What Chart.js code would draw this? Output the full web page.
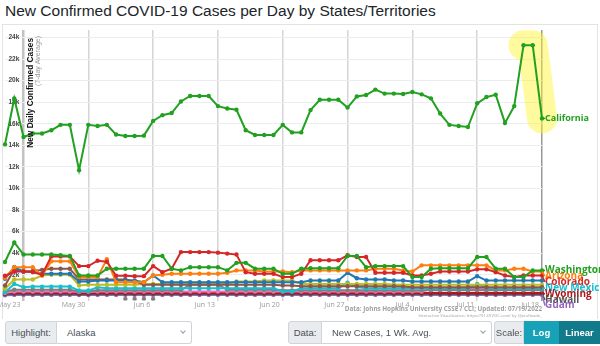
<!DOCTYPE html>
<html>
<head>
<meta charset="utf-8">
<script src="https://cdn.jsdelivr.net/npm/chart.js@4.4.0/dist/chart.umd.min.js"></script>
<style>
  html, body { margin: 0; padding: 0; background: #fff; }
  body { width: 600px; height: 346px; position: relative; overflow: hidden; font-family: "Liberation Sans", Arial, sans-serif; }
  #title { position: absolute; left: 5px; top: 2px; font-size: 15.5px; color: #212529; white-space: nowrap; }
  #frame { position: absolute; left: 2px; top: 24px; width: 594px; height: 294px; border: 1px solid #e3e3e3; border-bottom: none; }
  #chart { position: absolute; left: 0; top: 0; }
  .src { position: absolute; right: 58px; white-space: nowrap; color: #a0a0a0; font-family: "Open Sans", sans-serif; }
  .group { position: absolute; top: 321px; height: 23px; display: flex; font-size: 9.5px; color: #495057; }
  .lbl { display: flex; align-items: center; justify-content: center; background: #e9ecef; border: 1px solid #ced4da; border-radius: 3px 0 0 3px; box-sizing: border-box; }
  .sel { position: relative; display: flex; align-items: center; padding-left: 10px; border: 1px solid #ced4da; border-left: none; border-radius: 0 3px 3px 0; box-sizing: border-box; flex: 1; }
  .chev { position: absolute; right: 6px; top: 7px; width: 3px; height: 3px; border-right: 1px solid #999; border-bottom: 1px solid #999; transform: rotate(45deg); }
  .btn { display: flex; align-items: center; justify-content: center; color: #fff; box-sizing: border-box; font-weight: bold; }
</style>
</head>
<body>
<div id="title">New Confirmed COVID-19 Cases per Day by States/Territories</div>
<div id="frame"></div>
<canvas id="chart" width="600" height="310"></canvas>
<div class="src" style="top:304px;font-size:6.3px;font-weight:bold;">Data: Johns Hopkins University CSSE / CCI; Updated: 07/19/2022</div>
<div class="src" style="top:313px;font-size:4.2px;">Interactive Visualization: https://91-DIVOC.com/ by @profwade_</div>

<div class="group" style="left:5px;width:187px">
  <span class="lbl" style="width:52px">Highlight:</span>
  <span class="sel">Alaska<i class="chev"></i></span>
</div>
<div class="group" style="left:288px;width:204px">
  <span class="lbl" style="width:34px">Data:</span>
  <span class="sel">New Cases, 1 Wk. Avg.<i class="chev"></i></span>
</div>
<div class="group" style="left:494px;width:106px">
  <span class="lbl" style="width:30px">Scale:</span>
  <span class="btn" style="width:35px;background:#17a2b8;">Log</span>
  <span class="btn" style="width:41px;background:#117a8b;">Linear</span>
</div>

<script>
// one label per day, May 21 .. Jul 18 2022
const days = [
  "May 21", "May 22", "May 23", "May 24", "May 25", "May 26", "May 27", "May 28", "May 29", "May 30", "May 31",
  "Jun 1", "Jun 2", "Jun 3", "Jun 4", "Jun 5", "Jun 6", "Jun 7", "Jun 8", "Jun 9", "Jun 10",
  "Jun 11", "Jun 12", "Jun 13", "Jun 14", "Jun 15", "Jun 16", "Jun 17", "Jun 18", "Jun 19", "Jun 20",
  "Jun 21", "Jun 22", "Jun 23", "Jun 24", "Jun 25", "Jun 26", "Jun 27", "Jun 28", "Jun 29", "Jun 30",
  "Jul 1", "Jul 2", "Jul 3", "Jul 4", "Jul 5", "Jul 6", "Jul 7", "Jul 8", "Jul 9", "Jul 10",
  "Jul 11", "Jul 12", "Jul 13", "Jul 14", "Jul 15", "Jul 16", "Jul 17", "Jul 18"
];
const xTickLabels = ["May 23", "May 30", "Jun 6", "Jun 13", "Jun 20", "Jun 27", "Jul 4", "Jul 11", "Jul 18"];
const yTickValues = [2000, 4000, 6000, 8000, 10000, 12000, 14000, 16000, 18000, 20000, 22000, 24000];
const highlightDays = ["Jul 16", "Jul 17", "Jul 18"];

const california = [
  14090, 18350, 14770, 15100, 15100, 15400, 15900, 15900, 11700, 15900,
  15800, 15900, 15000, 14870, 14870, 14900, 16270, 16800, 17000, 18070,
  18580, 18580, 18580, 17640, 17420, 17300, 15400, 14960, 14960, 14960,
  15900, 15200, 15200, 17270, 18230, 18230, 18230, 17500, 18540, 18670,
  19170, 18800, 18800, 18770, 18950, 18730, 18360, 16950, 15900, 15800,
  15700, 17900, 18480, 18700, 16080, 17640, 23280, 23280, 16500
];
const washington = [
  3180, 5000, 3870, 3870, 3870, 3870, 3800, 3740, 1930, 1930,
  1930, 2560, 2560, 2560, 2560, 2560, 3740, 3740, 2560, 2400,
  2700, 2700, 2700, 2700, 2400, 3100, 3100, 2560, 2560, 2560,
  2090, 2090, 2560, 2600, 2600, 2600, 2600, 3740, 3740, 2700,
  2800, 2800, 2800, 2800, 1780, 1780, 2560, 2600, 2600, 2600,
  2600, 3650, 3650, 2560, 2560, 1780, 1780, 2400, 2400
];
const colorado = [
  1900, 2300, 2300, 2250, 2000, 3700, 3700, 3700, 2800, 2800,
  3300, 3200, 1900, 1900, 1870, 1870, 2800, 2240, 2560, 4100,
  4100, 4100, 4100, 4050, 3960, 3870, 2240, 2090, 2090, 2090,
  1780, 1780, 2090, 3340, 3340, 3340, 3340, 3800, 3650, 3650,
  2180, 2180, 2180, 2180, 1930, 1930, 2090, 2300, 2300, 2300,
  2300, 2500, 2500, 2240, 1930, 1780, 1930, 1930, 1930
];
const arizona = [
  1700, 2700, 2700, 2700, 1930, 3240, 3240, 3240, 1780, 1780,
  1780, 3430, 1300, 1300, 1300, 1300, 1930, 1990, 2090, 2090,
  2090, 2090, 2090, 2090, 2180, 2400, 2400, 2400, 2300, 2300,
  2300, 2240, 2400, 2400, 2400, 2400, 2400, 2400, 2400, 2400,
  2560, 2560, 2560, 2400, 2300, 2870, 2870, 2870, 2870, 2870,
  2870, 2870, 2870, 2400, 2400, 2560, 2560, 2300, 2300
];
const oregon = [
  1620, 2700, 2300, 2250, 2100, 2090, 2090, 2090, 1370, 1370,
  1460, 1460, 1460, 1460, 1460, 1300, 1930, 1300, 1300, 1300,
  1300, 1300, 1300, 1300, 1300, 1300, 1300, 1300, 1300, 1300,
  1300, 1300, 1300, 1460, 1460, 1460, 1460, 2180, 1680, 1560,
  1560, 1560, 1460, 1460, 1370, 1370, 1370, 1370, 1370, 1370,
  1370, 1870, 1460, 1460, 1460, 1460, 1460, 1460, 1460
];
const nevada = [
  1000, 2490, 2300, 2350, 2450, 2560, 2560, 2560, 1560, 1560,
  1560, 1560, 1560, 1560, 1400, 1060, 1060, 1060, 1060, 1060,
  1060, 1060, 1060, 1060, 1060, 1060, 1060, 1060, 1060, 1060,
  1000, 1000, 940, 940, 940, 940, 940, 940, 940, 940,
  940, 940, 940, 900, 840, 840, 840, 840, 840, 840,
  840, 840, 840, 840, 840, 840, 840, 840, 840
];
const utah = [
  700, 1560, 1560, 1560, 1930, 2000, 2000, 2000, 1000, 1060,
  1060, 1060, 1060, 1060, 1060, 1150, 1150, 1150, 1150, 1150,
  1150, 1150, 1150, 1150, 1150, 1370, 1370, 1370, 1460, 1460,
  1460, 1460, 1150, 1150, 1150, 1150, 1150, 1150, 1150, 1150,
  1150, 1150, 1100, 1060, 1060, 1060, 1060, 1060, 1060, 1060,
  1060, 1060, 1060, 1060, 1060, 1060, 1060, 1060, 1060
];
const newMexico = [
  370, 1150, 840, 900, 900, 900, 900, 900, 530, 530,
  840, 750, 750, 750, 750, 750, 750, 750, 750, 750,
  750, 750, 750, 750, 750, 750, 750, 750, 750, 750,
  440, 440, 750, 750, 750, 750, 750, 1250, 850, 750,
  750, 750, 750, 750, 750, 750, 750, 750, 750, 750,
  750, 1150, 800, 750, 750, 750, 750, 750, 750
];
const idaho = [
  450, 600, 600, 600, 600, 600, 600, 600, 450, 450,
  550, 550, 550, 550, 550, 550, 550, 550, 550, 550,
  1100, 1100, 1100, 1100, 600, 600, 600, 600, 600, 600,
  550, 550, 550, 550, 550, 550, 550, 550, 550, 550,
  550, 550, 550, 550, 550, 550, 550, 550, 550, 550,
  550, 550, 550, 550, 550, 550, 550, 550, 550
];
const montana = [
  300, 450, 450, 450, 450, 450, 450, 450, 400, 400,
  450, 450, 450, 450, 450, 450, 450, 450, 450, 450,
  450, 450, 450, 450, 450, 450, 450, 450, 450, 450,
  450, 450, 450, 450, 450, 450, 450, 450, 450, 450,
  450, 450, 450, 450, 450, 450, 680, 680, 680, 680,
  680, 680, 680, 680, 680, 680, 680, 680, 680
];
const wyoming = [
  250, 320, 320, 320, 320, 320, 320, 320, 280, 280,
  300, 300, 300, 300, 300, 300, 300, 300, 300, 300,
  300, 300, 300, 300, 300, 300, 300, 300, 300, 300,
  300, 300, 300, 300, 300, 300, 300, 300, 300, 300,
  300, 300, 300, 300, 300, 300, 300, 300, 300, 300,
  300, 300, 300, 300, 300, 300, 300, 300, 300
];
const hawaii = [
  180, 220, 220, 220, 220, 220, 220, 220, 200, 200,
  220, 220, 220, 220, 220, 220, 220, 220, 220, 220,
  220, 220, 220, 220, 220, 220, 220, 220, 220, 220,
  220, 220, 220, 220, 220, 220, 220, 220, 220, 220,
  220, 220, 220, 220, 220, 220, 220, 220, 220, 220,
  220, 220, 220, 220, 220, 220, 220, 220, 220
];
const guam = [
  100, 130, 130, 130, 130, 130, 130, 130, 120, 120,
  130, 130, 130, 130, 130, 130, 130, 130, 130, 130,
  130, 130, 130, 130, 130, 130, 130, 130, 130, 130,
  130, 130, 130, 130, 130, 130, 130, 130, 130, 130,
  130, 130, 130, 130, 130, 130, 130, 130, 130, 130,
  130, 130, 130, 130, 130, 130, 130, 130, 130
];
// short run of negative corrections (gray dots under the axis)
const correction = [
  null, null, null, null, null, null, null, null, null, null,
  null, null, null, -250, -250, -250, -250, null, null, null,
  null, null, null, null, null, null, null, null, null, null,
  null, null, null, null, null, null, null, null, null, null,
  null, null, null, null, null, null, null, null, null, null,
  null, null, null, null, null, null, null, null, null
];

const weekIdx = xTickLabels.map((l) => days.indexOf(l));

function series(data, color, tag, extra) {
  return Object.assign({
    data,
    tag,
    borderColor: color,
    backgroundColor: color,
    pointBackgroundColor: color,
    borderWidth: 2,
    pointRadius: 2.2,
    pointBorderWidth: 0,
    tension: 0,
  }, extra || {});
}

const datasets = [
  series(california, "#22a01f", "California", { labelFont: "bold 9px 'Open Sans'" }),
  series(washington, "#22a01f", "Washington"),
  series(colorado, "#d62728", "Colorado"),
  series(arizona, "#ff7f0e", "Arizona"),
  series(oregon, "#1f77b4", null),
  series(nevada, "#8c564b", null),
  series(utah, "#bcbd22", null),
  series(newMexico, "#17becf", "New Mexico"),
  series(idaho, "#7f7f7f", null),
  series(montana, "#e377c2", null),
  series(wyoming, "#b0151b", "Wyoming"),
  series(hawaii, "#555555", "Hawaii"),
  series(guam, "#9467bd", "Guam"),
  series(correction, "#7f7f7f", null, { borderWidth: 0 }),
  {
    data: days.map((d, i) => (highlightDays.includes(d) ? california[i] : null)),
    borderColor: "rgba(255, 245, 40, 0.45)",
    borderWidth: 30,
    borderCapStyle: "round",
    borderJoinStyle: "round",
    pointRadius: 0,
    clip: false,
    order: 99,
  },
];

// labels at the right end of each line, pushed apart so they stack
const sideLabels = {
  id: "sideLabels",
  afterDatasetsDraw(chart) {
    const { ctx, scales: { x, y } } = chart;
    const items = [];
    chart.data.datasets.forEach((ds) => {
      if (!ds.tag) return;
      const last = ds.data.length - 1;
      items.push({ ds, px: x.getPixelForValue(last), py: y.getPixelForValue(ds.data[last]) });
    });
    items.sort((a, b) => a.py - b.py);
    let prev = -Infinity;
    items.forEach((it) => {
      it.ly = Math.max(it.py, prev + 5.8);
      prev = it.ly;
    });
    ctx.save();
    ctx.textBaseline = "middle";
    ctx.textAlign = "left";
    items.forEach((it) => {
      ctx.strokeStyle = it.ds.borderColor;
      ctx.lineWidth = 1.5;
      ctx.beginPath();
      ctx.moveTo(it.px, it.py);
      ctx.lineTo(it.px + 3, it.ly);
      ctx.stroke();
      ctx.font = it.ds.labelFont || "bold 10px 'Open Sans'";
      ctx.fillStyle = it.ds.borderColor;
      ctx.fillText(it.ds.tag, it.px + 3, it.ly);
    });
    ctx.restore();
  },
};

// rotated axis title sitting just right of the May 23 axis line
const axisTitle = {
  id: "axisTitle",
  afterDatasetsDraw(chart) {
    const { ctx, scales: { x } } = chart;
    const ax = x.getPixelForValue(weekIdx[0]);
    ctx.save();
    ctx.textBaseline = "middle";
    ctx.textAlign = "right";
    ctx.translate(ax + 7, 38);
    ctx.rotate(-Math.PI / 2);
    ctx.font = "bold 8.3px 'Liberation Sans'";
    ctx.fillStyle = "#111";
    ctx.fillText("New Daily Confirmed Cases", 0, 0);
    ctx.font = "7px 'Liberation Sans'";
    ctx.fillStyle = "#999";
    ctx.fillText("(7-day Average)", 2, 8);
    ctx.restore();
  },
};

new Chart(document.getElementById("chart"), {
  type: "line",
  data: { labels: days, datasets },
  plugins: [axisTitle, sideLabels],
  options: {
    responsive: false,
    animation: false,
    layout: { padding: { left: 5, right: 58, top: 30, bottom: 1 } },
    plugins: { legend: { display: false }, tooltip: { enabled: false } },
    scales: {
      x: {
        type: "category",
        offset: false,
        border: { display: false },
        grid: {
          drawTicks: false,
          color: (c) =>
            c.index === days.length - 1 ? "#999999"
            : c.index === weekIdx[0] ? "#c2c2c2"
            : weekIdx.includes(c.index) ? "#d5d5d5"
            : "rgba(0,0,0,0)",
          lineWidth: (c) => (c.index === weekIdx[0] ? 2.5 : 1.5),
        },
        ticks: {
          autoSkip: false,
          maxRotation: 0,
          align: "end",
          padding: 0,
          labelOffset: -3,
          color: "#999999",
          font: { family: "'Open Sans'", size: 7 },
          callback: (v, i) => (weekIdx.includes(i) ? days[i] : ""),
        },
      },
      y: {
        position: { x: 1.55 },
        min: -400,
        max: 24700,
        afterBuildTicks: (axis) => {
          axis.ticks = yTickValues.map((v) => ({ value: v }));
        },
        border: { display: false },
        grid: { drawTicks: false, color: "#ececf3", lineWidth: 1 },
        ticks: {
          color: "#444",
          font: { family: "'Liberation Sans'", size: 6.5, weight: "bold" },
          callback: (v) => v / 1000 + "k",
        },
      },
    },
  },
});
</script>
</body>
</html>
